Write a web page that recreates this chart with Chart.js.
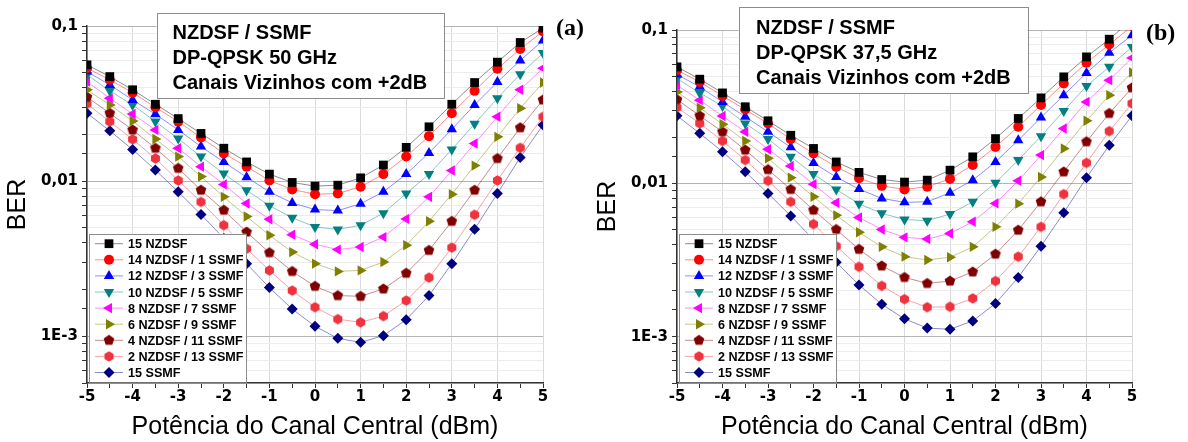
<!DOCTYPE html>
<html>
<head>
<meta charset="utf-8">
<script src="https://cdn.jsdelivr.net/npm/chart.js@4.4.0/dist/chart.umd.min.js"></script>
<style>
  html, body { margin: 0; padding: 0; background: #fff; }
  #wrap { position: relative; width: 1188px; height: 442px; }
  .panel { position: absolute; top: 0; height: 442px; }
  #pa { left: 0; width: 590px; }
  #pb { left: 590px; width: 598px; }
</style>
</head>
<body>
<div id="wrap">
  <div class="panel" id="pa"><canvas id="chartA"></canvas></div>
  <div class="panel" id="pb"><canvas id="chartB"></canvas></div>
</div>
<script>
// x values: launch power of the central channel (dBm)
const power = [-5, -4.5, -4, -3.5, -3, -2.5, -2, -1.5, -1, -0.5, 0, 0.5, 1, 1.5, 2, 2.5, 3, 3.5, 4, 4.5, 5];

const seriesLabels = [
  "15 NZDSF", "14 NZDSF / 1 SSMF", "12 NZDSF / 3 SSMF", "10 NZDSF / 5 SSMF",
  "8 NZDSF / 7 SSMF", "6 NZDSF / 9 SSMF", "4 NZDSF / 11 SSMF", "2 NZDSF / 13 SSMF", "15 SSMF",
];

const yTickValues = [0.1, 0.01, 0.001];
const yTickLabels = ["0,1", "0,01", "1E-3"];

const noteA = ["NZDSF / SSMF", "DP-QPSK 50 GHz", "Canais Vizinhos com +2dB"];
const noteB = ["NZDSF / SSMF", "DP-QPSK 37,5 GHz", "Canais Vizinhos com +2dB"];

// (a) DP-QPSK 50 GHz - BER
const a15NZ    = [0.0562, 0.0472, 0.0388, 0.0313, 0.0253, 0.0203, 0.0163, 0.0133, 0.0111, 0.00981, 0.00929, 0.00942, 0.0105, 0.0127, 0.0165, 0.0224, 0.0313, 0.0432, 0.0585, 0.0783, 0.097];
const a14NZ1SS = [0.0535, 0.0450, 0.0372, 0.0299, 0.0242, 0.0191, 0.0151, 0.0124, 0.0101, 0.00883, 0.00824, 0.00832, 0.00919, 0.0111, 0.0144, 0.0195, 0.0274, 0.0382, 0.0530, 0.0710, 0.0923];
const a12NZ3SS = [0.0509, 0.0417, 0.0334, 0.0270, 0.0214, 0.0167, 0.0133, 0.0106, 0.00853, 0.00724, 0.00656, 0.00646, 0.00715, 0.00853, 0.0111, 0.0152, 0.0216, 0.0310, 0.0435, 0.0600, 0.0807];
const a10NZ5SS = [0.0484, 0.0382, 0.0310, 0.0242, 0.0188, 0.0144, 0.0112, 0.00875, 0.00695, 0.00581, 0.00507, 0.00488, 0.00520, 0.00622, 0.00832, 0.0111, 0.0160, 0.0234, 0.0342, 0.0489, 0.0669];
const a8NZ7SS  = [0.0438, 0.0342, 0.0271, 0.0214, 0.0163, 0.0124, 0.00953, 0.00718, 0.00568, 0.00452, 0.00392, 0.00362, 0.00376, 0.00436, 0.00571, 0.00792, 0.0117, 0.0175, 0.0260, 0.0388, 0.0535];
const a6NZ9SS  = [0.0388, 0.0310, 0.0244, 0.0187, 0.0144, 0.0107, 0.00792, 0.00592, 0.00448, 0.00349, 0.00294, 0.00262, 0.00266, 0.00301, 0.00386, 0.00551, 0.00824, 0.0126, 0.0193, 0.0295, 0.0432];
const a4NZ11SS = [0.0348, 0.0274, 0.0214, 0.0163, 0.0121, 0.00875, 0.00650, 0.00470, 0.00346, 0.00262, 0.00210, 0.00183, 0.00181, 0.00202, 0.00255, 0.00358, 0.00551, 0.00875, 0.0140, 0.0221, 0.0334];
const a2NZ13SS = [0.0315, 0.0242, 0.0186, 0.0140, 0.0101, 0.00735, 0.00520, 0.00367, 0.00266, 0.00197, 0.00154, 0.00129, 0.00123, 0.00135, 0.00170, 0.00239, 0.00373, 0.00607, 0.0101, 0.0164, 0.0260];
const a15SS    = [0.0274, 0.0211, 0.0160, 0.0118, 0.00853, 0.00610, 0.00428, 0.00294, 0.00206, 0.00150, 0.00116, 0.000970, 0.000914, 0.00101, 0.00128, 0.00183, 0.00294, 0.00490, 0.00832, 0.0142, 0.0230];

// (b) DP-QPSK 37,5 GHz - BER
const b15NZ    = [0.0575, 0.0478, 0.0389, 0.0316, 0.0256, 0.0206, 0.0169, 0.0138, 0.0118, 0.0106, 0.0102, 0.0105, 0.0122, 0.0149, 0.0196, 0.0265, 0.0361, 0.0495, 0.0668, 0.0871, 0.117];
const b14NZ1SS = [0.0547, 0.0459, 0.0372, 0.0303, 0.0246, 0.0194, 0.0157, 0.0128, 0.0108, 0.00964, 0.00914, 0.00951, 0.0107, 0.0132, 0.0173, 0.0234, 0.0324, 0.0448, 0.0611, 0.0804, 0.106];
const b12NZ3SS = [0.0513, 0.0426, 0.0340, 0.0272, 0.0217, 0.0172, 0.0136, 0.0110, 0.00918, 0.00798, 0.00753, 0.00759, 0.00869, 0.0105, 0.0138, 0.0191, 0.0269, 0.0376, 0.0525, 0.0710, 0.0925];
const b10NZ5SS = [0.0483, 0.0389, 0.0319, 0.0246, 0.0195, 0.0149, 0.0115, 0.00914, 0.00736, 0.00638, 0.00582, 0.00571, 0.00631, 0.00759, 0.0101, 0.0142, 0.0203, 0.0297, 0.0431, 0.0575, 0.0776];
const b8NZ7SS  = [0.0437, 0.0349, 0.0275, 0.0217, 0.0167, 0.0130, 0.00989, 0.00748, 0.00600, 0.00501, 0.00445, 0.00434, 0.00472, 0.00562, 0.00741, 0.0104, 0.0153, 0.0228, 0.0340, 0.0471, 0.0658];
const b6NZ9SS  = [0.0395, 0.0311, 0.0243, 0.0189, 0.0146, 0.0109, 0.00818, 0.00619, 0.00480, 0.00386, 0.00333, 0.00317, 0.00330, 0.00386, 0.00521, 0.00738, 0.0110, 0.0169, 0.0256, 0.0376, 0.0529];
const b4NZ11SS = [0.0352, 0.0276, 0.0217, 0.0165, 0.0123, 0.00914, 0.00670, 0.00501, 0.00372, 0.00290, 0.00244, 0.00223, 0.00231, 0.00265, 0.00346, 0.00496, 0.00759, 0.0119, 0.0187, 0.0286, 0.0420];
const b2NZ13SS = [0.0313, 0.0246, 0.0189, 0.0142, 0.0104, 0.00759, 0.00543, 0.00390, 0.00286, 0.00215, 0.00176, 0.00156, 0.00157, 0.00178, 0.00231, 0.00333, 0.00521, 0.00851, 0.0136, 0.0219, 0.0332];
const b15SS    = [0.0276, 0.0212, 0.0161, 0.0119, 0.00861, 0.00614, 0.00430, 0.00306, 0.00218, 0.00163, 0.00131, 0.00114, 0.00112, 0.00127, 0.00165, 0.00244, 0.00390, 0.00643, 0.0109, 0.0177, 0.0276];

const seriesColors = ["#000000", "#ff0000", "#0000ff", "#008080", "#ff00ff", "#808000", "#800000", "#f0323f", "#000080"];

Chart.defaults.font.family = "Liberation Sans";

// pentagon / hexagon markers are not built in, so draw them on small canvases
function polygonMarker(sides, r, color, start) {
  const c = document.createElement("canvas");
  const s = Math.ceil(r * 2 + 2);
  c.width = s;
  c.height = s;
  const g = c.getContext("2d");
  g.fillStyle = color;
  g.beginPath();
  for (let k = 0; k < sides; k++) {
    const a = start + (k * 2 * Math.PI) / sides;
    const px = s / 2 + r * Math.cos(a);
    const py = s / 2 + r * Math.sin(a);
    if (k === 0) g.moveTo(px, py);
    else g.lineTo(px, py);
  }
  g.closePath();
  g.fill();
  return c;
}

const markerStyles = [
  "rect", "circle", "triangle", "triangle", "triangle", "triangle",
  polygonMarker(5, 5.6, seriesColors[6], -Math.PI / 2),
  polygonMarker(6, 5.2, seriesColors[7], -Math.PI / 2),
  "rectRot",
];
const markerRotation = [0, 0, 0, 180, -90, 90, 0, 0, 0];
const markerRadius = [6.2, 5, 6, 6, 6, 6, 5, 5, 5.5];

function fade(hex) {
  const r = parseInt(hex.slice(1, 3), 16);
  const g = parseInt(hex.slice(3, 5), 16);
  const b = parseInt(hex.slice(5, 7), 16);
  return `rgba(${r}, ${g}, ${b}, 0.45)`;
}

function isDecade(v) {
  const lv = Math.log10(v);
  return Math.abs(lv - Math.round(lv)) < 1e-6;
}

function yLabel(v) {
  for (let i = 0; i < yTickValues.length; i++) {
    if (Math.abs(v / yTickValues[i] - 1) < 1e-6) return yTickLabels[i];
  }
  return "";
}

function overlayPlugin(cfg) {
  return {
    id: "overlay",
    afterDraw(chart) {
      const ctx = chart.ctx;
      const area = chart.chartArea;
      ctx.save();

      // legend box in the lower left corner
      const rowH = 16.1;
      const boxW = 157;
      const boxH = 10 + 8 * rowH + 9.5;
      const lx = area.left + 2;
      const ly = area.bottom - 1 - boxH;
      ctx.fillStyle = "#fff";
      ctx.fillRect(lx, ly, boxW, boxH);
      ctx.strokeStyle = "#8c8c8c";
      ctx.lineWidth = 1;
      ctx.strokeRect(Math.round(lx) + 0.5, Math.round(ly) + 0.5, boxW, boxH);
      chart.data.datasets.forEach((ds, i) => {
        const cy = ly + 10 + i * rowH;
        ctx.strokeStyle = ds.borderColor;
        ctx.lineWidth = 1;
        ctx.beginPath();
        ctx.moveTo(lx + 6, cy);
        ctx.lineTo(lx + 34, cy);
        ctx.stroke();
        ctx.fillStyle = ds.pointBackgroundColor;
        Chart.helpers.drawPoint(ctx, {
          pointStyle: ds.pointStyle,
          rotation: ds.pointRotation,
          radius: ds.pointRadius,
          borderWidth: 0,
        }, lx + 20, cy);
        ctx.fillStyle = "#000";
        ctx.font = 'bold 12.6px "Liberation Sans"';
        ctx.textAlign = "left";
        ctx.textBaseline = "alphabetic";
        ctx.fillText(ds.label, lx + 39, cy + 4.5);
      });

      // note box
      const n = cfg.note;
      ctx.fillStyle = "#fff";
      ctx.fillRect(n.x, n.y, n.w, n.h);
      ctx.strokeStyle = "#8c8c8c";
      ctx.strokeRect(Math.round(n.x) + 0.5, Math.round(n.y) + 0.5, n.w, n.h);
      ctx.fillStyle = "#000";
      ctx.font = 'bold 20px "Liberation Sans"';
      n.lines.forEach((t, i) => {
        ctx.fillText(t, n.textX, n.firstY + i * n.step + 7);
      });

      // panel letter
      ctx.font = 'bold 24px "Liberation Serif"';
      ctx.fillText(cfg.letter.text, cfg.letter.x, cfg.letter.y + 7);
      ctx.restore();
    },
  };
}

function makeChart(id, seriesData, cfg) {
  const datasets = seriesData.map((vals, i) => ({
    label: seriesLabels[i],
    data: vals.map((v, j) => ({ x: power[j], y: v })),
    borderColor: fade(seriesColors[i]),
    borderWidth: 1,
    pointStyle: markerStyles[i],
    pointRotation: markerRotation[i],
    pointRadius: markerRadius[i],
    pointBorderWidth: 0,
    pointBackgroundColor: seriesColors[i],
    tension: 0,
  }));

  return new Chart(document.getElementById(id), {
    type: "line",
    data: { datasets },
    options: {
      animation: false,
      responsive: true,
      maintainAspectRatio: false,
      devicePixelRatio: 1,
      layout: { padding: cfg.padding },
      plugins: { legend: { display: false }, tooltip: { enabled: false } },
      scales: {
        x: {
          type: "linear",
          min: -5,
          max: 5,
          ticks: {
            stepSize: 0.5,
            autoSkip: false,
            maxRotation: 0,
            padding: 0,
            color: "#000",
            font: { family: "DejaVu Sans", size: 15, weight: "bold" },
            callback: (v) => (Number.isInteger(v) ? String(v) : ""),
          },
          grid: {
            color: (c) => (c.tick && Number.isInteger(c.tick.value) ? "#dadada" : "rgba(0,0,0,0)"),
            tickColor: "#333",
            tickLength: 5,
          },
          border: { color: "#333", width: 1.5 },
          title: {
            display: true,
            text: "Potência do Canal Central (dBm)",
            color: "#000",
            font: { family: "Liberation Sans", size: 25 },
            padding: { top: 0, bottom: 0 },
          },
          afterFit: (s) => { s.height = 59; },
        },
        y: {
          type: "logarithmic",
          min: 5e-4,
          max: 0.1,
          ticks: {
            autoSkip: false,
            padding: 4,
            color: "#000",
            font: { family: "DejaVu Sans", size: 15, weight: "bold" },
            callback: (v) => yLabel(v),
          },
          grid: {
            color: (c) => (c.tick && isDecade(c.tick.value) ? "#b4b4b4" : "#ececec"),
            tickColor: "#333",
            tickLength: 5,
          },
          border: { color: "#333", width: 1.5 },
          title: {
            display: true,
            text: "BER",
            color: "#000",
            font: { family: "Liberation Sans", size: 25 },
            padding: { top: 3, bottom: 0 },
          },
          afterFit: (s) => { s.width = 87; },
        },
      },
    },
    plugins: [overlayPlugin(cfg)],
  });
}

makeChart("chartA", [a15NZ, a14NZ1SS, a12NZ3SS, a10NZ5SS, a8NZ7SS, a6NZ9SS, a4NZ11SS, a2NZ13SS, a15SS], {
  padding: { left: 0, top: 26, right: 47, bottom: 0 },
  note: { x: 156.5, y: 13, w: 287, h: 85, textX: 172.5, firstY: 31.7, step: 25, lines: noteA },
  letter: { text: "(a)", x: 556, y: 28 },
});

makeChart("chartB", [b15NZ, b14NZ1SS, b12NZ3SS, b10NZ5SS, b8NZ7SS, b6NZ9SS, b4NZ11SS, b2NZ13SS, b15SS], {
  padding: { left: 0, top: 30, right: 56, bottom: 0 },
  note: { x: 148.5, y: 7, w: 289, h: 86, textX: 166, firstY: 26.7, step: 25, lines: noteB },
  letter: { text: "(b)", x: 556, y: 33 },
});
</script>
</body>
</html>
